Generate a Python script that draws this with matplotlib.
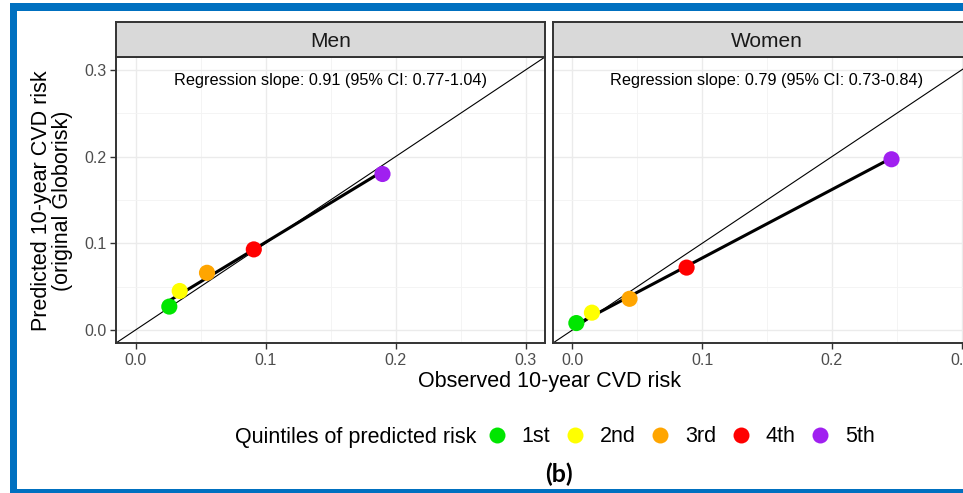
import numpy as np
import matplotlib
matplotlib.use("Agg")
import matplotlib.pyplot as plt
from matplotlib.lines import Line2D
from matplotlib.patches import Rectangle

# ---- data -------------------------------------------------------------
panels = ["Men", "Women"]
quintiles = ["1st", "2nd", "3rd", "4th", "5th"]
colors = ["#00E600", "#FFFF00", "#FFA500", "#FF0000", "#A020F0"]

men_observed = [0.026, 0.034, 0.055, 0.091, 0.190]
men_predicted = [0.027, 0.045, 0.066, 0.093, 0.180]
women_observed = [0.003, 0.015, 0.044, 0.088, 0.246]
women_predicted = [0.008, 0.020, 0.036, 0.072, 0.197]

slopes = [0.91, 0.79]
slope_labels = ["Regression slope: 0.91 (95% CI: 0.77-1.04)",
                "Regression slope: 0.79 (95% CI: 0.73-0.84)"]

ticks = [0.0, 0.1, 0.2, 0.3]
tick_labels = ["0.0", "0.1", "0.2", "0.3"]

# ---- figure -----------------------------------------------------------
W, H = 963, 493
fig = plt.figure(figsize=(W / 100, H / 100), dpi=100)
plt.rcParams["font.family"] = ["Liberation Sans", "DejaVu Sans"]


def px(x0, y0, x1, y1):
    return [x0 / W, 1 - y1 / H, (x1 - x0) / W, (y1 - y0) / H]


BORDER = "#333333"
GRID = "#EBEBEB"
TICKC = "#4D4D4D"
TITLE_FS = 15.5
lo, hi = -0.015, 0.315

obs = [men_observed, women_observed]
pred = [men_predicted, women_predicted]
xspans = [(116, 545), (553, 981)]

for i, name in enumerate(panels):
    x0, x1 = xspans[i]
    ax = fig.add_axes(px(x0, 57, x1, 343))
    ax.set_xlim(lo, hi)
    ax.set_ylim(lo, hi)
    ax.set_xticks(ticks)
    ax.set_xticklabels(tick_labels)
    ax.set_yticks(ticks)
    ax.set_xticks([0.05, 0.15, 0.25], minor=True)
    ax.set_yticks([0.05, 0.15, 0.25], minor=True)
    ax.grid(which="major", color=GRID, lw=1.0, zorder=0)
    ax.grid(which="minor", color="#F3F3F3", lw=0.6, zorder=0)
    ax.tick_params(which="minor", length=0)
    ax.tick_params(which="major", length=4, width=1.0, color=BORDER,
                   labelsize=11.5, labelcolor=TICKC, pad=3)
    if i == 0:
        ax.set_yticklabels(tick_labels)
    else:
        ax.tick_params(axis="y", length=0, labelleft=False)
    for sp in ax.spines.values():
        sp.set_color(BORDER)
        sp.set_linewidth(1.4)

    # identity line
    ax.plot([lo, hi], [lo, hi], color="black", lw=0.8, zorder=2)

    # fitted calibration line with the stated slope
    xo = np.array(obs[i])
    yp = np.array(pred[i])
    b = slopes[i]
    a = yp.mean() - b * xo.mean()
    xs = np.array([xo.min(), xo.max()])
    ax.plot(xs, a + b * xs, color="black", lw=2.2, zorder=3,
            solid_capstyle="round")

    ax.scatter(xo, yp, s=135, c=colors, zorder=4, linewidths=0)

    ax.text(0.15, 0.288, slope_labels[i], ha="center", va="center",
            fontsize=11.7, color="black")

    # facet strip
    sax = fig.add_axes(px(x0, 22, x1, 57))
    sax.set_facecolor("#D9D9D9")
    sax.set_xticks([])
    sax.set_yticks([])
    for sp in sax.spines.values():
        sp.set_color(BORDER)
        sp.set_linewidth(1.4)
    sax.text(0.5, 0.45, name, ha="center", va="center", fontsize=15,
             color="#1A1A1A", transform=sax.transAxes)

# axis titles
fig.text(549 / W, 1 - 382 / H, "Observed 10-year CVD risk", ha="center",
         va="center", fontsize=TITLE_FS)
fig.text(52 / W, 1 - 201 / H,
         "Predicted 10-year CVD risk\n(original Globorisk)", ha="center",
         va="center", rotation=90, fontsize=TITLE_FS, linespacing=0.95)

# legend
fig.text(476 / W, 1 - 437 / H, "Quintiles of predicted risk", ha="right",
         va="center", fontsize=TITLE_FS)
handles = [Line2D([], [], ls="none", marker="o", ms=11.5, mfc=c, mec="none")
           for c in colors]
fig.legend(handles, quintiles, ncol=5, loc="center left",
           bbox_to_anchor=(488 / W, 1 - 437 / H), frameon=False,
           fontsize=TITLE_FS, handlelength=0.8, handletextpad=0.75,
           columnspacing=0.75, borderpad=0, borderaxespad=0)

fig.text(559 / W, 1 - 474 / H, "(b)", ha="center", va="center",
         fontsize=18, fontweight="bold", family=["Lato", "DejaVu Sans"])

# blue frame
BLUE = "#0070C0"
for (x0, y0, x1, y1) in [(10, 3, 17, 493), (10, 3, W, 11), (10, 489, W, 493)]:
    fig.patches.append(Rectangle((x0 / W, 1 - y1 / H), (x1 - x0) / W,
                                 (y1 - y0) / H, transform=fig.transFigure,
                                 facecolor=BLUE, edgecolor="none"))

fig.savefig("out.png", dpi=100)
